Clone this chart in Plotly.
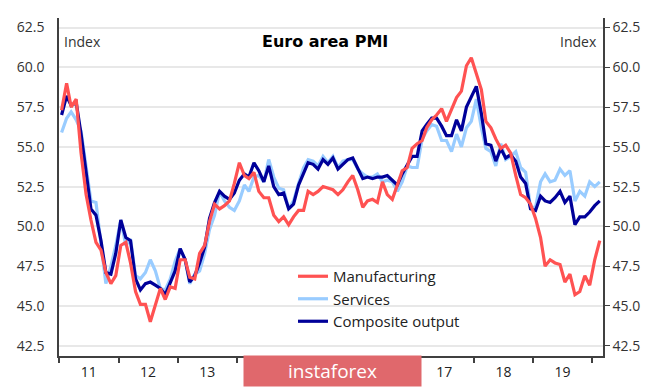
import plotly.graph_objects as go

# Monthly Euro area PMI, Jan 2011 - Feb 2020
months = [f"{y}-{m:02d}-15" for y in range(2011, 2021) for m in range(1, 13)][:110]

manufacturing = [
    57.3, 59.0, 57.5, 58.0, 54.6, 52.0, 50.4, 49.0, 48.5, 47.1, 46.4, 46.9,
    48.8, 49.0, 47.7, 45.9, 45.1, 45.1, 44.0, 45.1, 46.1, 45.4, 46.2, 46.1,
    47.9, 47.9, 46.8, 46.7, 48.3, 48.8, 50.3, 51.4, 51.1, 51.3, 51.6, 52.7,
    54.0, 53.2, 53.0, 53.4, 52.2, 51.8, 51.8, 50.7, 50.3, 50.6, 50.1, 50.6,
    51.0, 51.0, 52.2, 52.0, 52.2, 52.5, 52.4, 52.3, 52.0, 52.3, 52.8, 53.2,
    52.3, 51.2, 51.6, 51.7, 51.5, 52.8, 52.0, 51.7, 52.6, 53.5, 53.7, 54.9,
    55.2, 55.4, 56.2, 56.7, 57.0, 57.4, 56.6, 57.4, 58.1, 58.5, 60.1, 60.6,
    59.6, 58.6, 56.6, 56.2, 55.5, 54.9, 55.1, 54.6, 53.2, 52.0, 51.8, 51.4,
    50.5, 49.3, 47.5, 47.9, 47.7, 47.6, 46.5, 47.0, 45.7, 45.9, 46.9, 46.3,
    47.9, 49.1,
]
services = [
    55.9, 56.8, 57.2, 56.7, 56.0, 53.7, 51.6, 51.5, 48.8, 46.4, 47.5, 48.8,
    50.4, 48.8, 49.2, 46.9, 46.7, 47.1, 47.9, 47.2, 46.1, 46.0, 46.7, 47.8,
    48.6, 47.9, 46.4, 47.0, 47.2, 48.3, 49.8, 50.7, 52.2, 51.6, 51.2, 51.0,
    51.6, 52.6, 52.2, 53.1, 53.2, 52.8, 54.2, 53.1, 52.4, 52.3, 51.1, 51.6,
    52.7, 53.7, 54.2, 54.1, 53.8, 54.4, 54.0, 54.4, 53.7, 54.1, 54.2, 54.2,
    53.6, 53.3, 53.1, 53.1, 53.3, 52.8, 52.9, 52.8, 52.2, 52.8, 53.8, 53.7,
    53.7, 55.5, 56.0, 56.4, 56.3, 55.4, 55.4, 54.7, 55.8, 55.0, 56.2, 56.6,
    58.0, 56.2, 54.9, 54.7, 53.8, 55.2, 54.2, 54.4, 54.7, 53.7, 53.4, 51.2,
    51.2, 52.8, 53.3, 52.8, 52.9, 53.6, 53.2, 53.5, 51.6, 52.2, 51.9, 52.8,
    52.5, 52.8,
]
composite = [
    57.0, 58.2, 57.6, 57.8, 55.8, 53.3, 51.1, 50.7, 49.1, 47.1, 47.0, 48.3,
    50.4, 49.3, 49.1, 46.7, 46.0, 46.4, 46.5, 46.3, 46.1, 45.7, 46.5, 47.2,
    48.6, 47.9, 46.5, 46.9, 47.7, 48.7, 50.5, 51.5, 52.2, 51.9, 51.7, 52.1,
    52.9, 53.3, 53.1, 54.0, 53.5, 52.8, 53.8, 52.5, 52.0, 52.1, 51.1, 51.4,
    52.6, 53.3, 54.0, 53.9, 53.6, 54.2, 53.9, 54.3, 53.6, 53.9, 54.2, 54.3,
    53.6, 53.0, 53.1, 53.0, 53.1, 53.1, 53.2, 52.9, 52.6, 53.3, 53.9, 54.4,
    54.4, 56.0, 56.4, 56.8, 56.8, 56.3, 55.7, 55.7, 56.7, 56.0, 57.5, 58.1,
    58.8, 57.1, 55.2, 55.1, 54.1, 54.9, 54.3, 54.5, 54.1, 53.1, 52.7, 51.1,
    51.0, 51.9, 51.6, 51.5, 51.8, 52.2, 51.5, 51.9, 50.1, 50.6, 50.6, 50.9,
    51.3, 51.6,
]

year_ticks = [f"{y}-01-01" for y in range(2011, 2021)]
year_label_pos = [f"{y}-07-01" for y in range(2011, 2020)]
# 14, 15 and 16 are hidden behind the watermark in the original
year_labels = ["11", "12", "13", "", "", "", "17", "18", "19"]
y_ticks = [42.5, 45.0, 47.5, 50.0, 52.5, 55.0, 57.5, 60.0, 62.5]

x_range = ["2010-12-30", "2020-03-06"]
y_range = [41.85, 63.1]

RED = "#ff5252"
LIGHT = "#99ccff"
NAVY = "#000099"
FONT = "Open Sans"
AXC = "#404040"

# page offset compensation (body margin of the html page)
OX, OY = 8, 8
L, T, R, B = 59 - OX, 18 - OY, 603 - OX, 356 - OY  # plot area in figure px
PW, PH = R - L, B - T


def px(x):
    return (x - OX - L) / PW


def py(y):
    return (B - (y - OY)) / PH


fig = go.Figure()
fig.add_trace(go.Scatter(x=months, y=services, name="Services", mode="lines",
                         line=dict(color=LIGHT, width=3.2), legendrank=2))
fig.add_trace(go.Scatter(x=months, y=composite, name="Composite output", mode="lines",
                         line=dict(color=NAVY, width=3.2), legendrank=3))
fig.add_trace(go.Scatter(x=months, y=manufacturing, name="Manufacturing", mode="lines",
                         line=dict(color=RED, width=3.2), legendrank=1))

fig.add_hline(y=50, line=dict(color="#808080", width=1.5), layer="below")

fig.update_layout(
    width=665, height=387,
    margin=dict(l=L, r=665 - R, t=T, b=387 - B),
    paper_bgcolor="white", plot_bgcolor="white",
    font=dict(family=FONT, size=14, color="#333333"),
    showlegend=True,
    legend=dict(x=px(293), y=py(260), xanchor="left", yanchor="top",
                bgcolor="rgba(255,255,255,0)", font=dict(family=FONT, size=15, color="#222222"),
                tracegroupgap=0),
    xaxis=dict(type="date", range=x_range, tickvals=year_ticks, showticklabels=False,
               ticks="outside", ticklen=5, tickcolor=AXC, tickwidth=1.5,
               showline=True, linecolor=AXC, linewidth=1.5, showgrid=False, zeroline=False),
    xaxis2=dict(type="date", range=x_range, overlaying="x", anchor="y", side="bottom",
                tickvals=year_label_pos, ticktext=year_labels, ticks="", showline=False,
                showgrid=False, zeroline=False, ticklabelstandoff=6,
                tickfont=dict(family=FONT, size=14, color="#222222")),
    yaxis=dict(range=y_range, tickvals=y_ticks, tickformat=".1f", showline=True,
               linecolor=AXC, linewidth=1.5, gridcolor="#e8e8e8", gridwidth=1.5,
               ticks="", ticklabelstandoff=10, zeroline=False,
               tickfont=dict(family=FONT, size=14, color="#333333")),
    yaxis2=dict(range=y_range, tickvals=y_ticks, tickformat=".1f", overlaying="y",
                side="right", anchor="x", showline=True, linecolor=AXC, linewidth=1.5,
                ticks="outside", ticklen=5, tickcolor=AXC, showgrid=False, zeroline=False,
                tickfont=dict(family=FONT, size=14, color="#333333")),
)

# invisible trace so that xaxis2 / yaxis2 are rendered
fig.add_trace(go.Scatter(x=[months[0]], y=[50], xaxis="x2", yaxis="y2", mode="lines",
                         showlegend=False, hoverinfo="skip", line=dict(width=0)))

fig.add_annotation(text="<b>Euro area PMI</b>", xref="paper", yref="paper",
                   x=px(325), y=py(41), xanchor="center", yanchor="middle",
                   showarrow=False, font=dict(family="DejaVu Sans", size=16, color="#000000"))
fig.add_annotation(text="Index", xref="paper", yref="paper",
                   x=px(62), y=py(41), xanchor="left", yanchor="middle",
                   showarrow=False, font=dict(family=FONT, size=14, color="#333333"))
fig.add_annotation(text="Index", xref="paper", yref="paper",
                   x=px(599), y=py(41), xanchor="right", yanchor="middle",
                   showarrow=False, font=dict(family=FONT, size=14, color="#333333"))
fig.add_annotation(text="instaforex", xref="paper", yref="paper",
                   x=px(332.5), y=py(371), xanchor="center", yanchor="middle",
                   width=177, height=30, borderpad=0, bgcolor="#e0686c", showarrow=False,
                   font=dict(family=FONT, size=19, color="#ffffff"))

fig.write_html("out.html")
